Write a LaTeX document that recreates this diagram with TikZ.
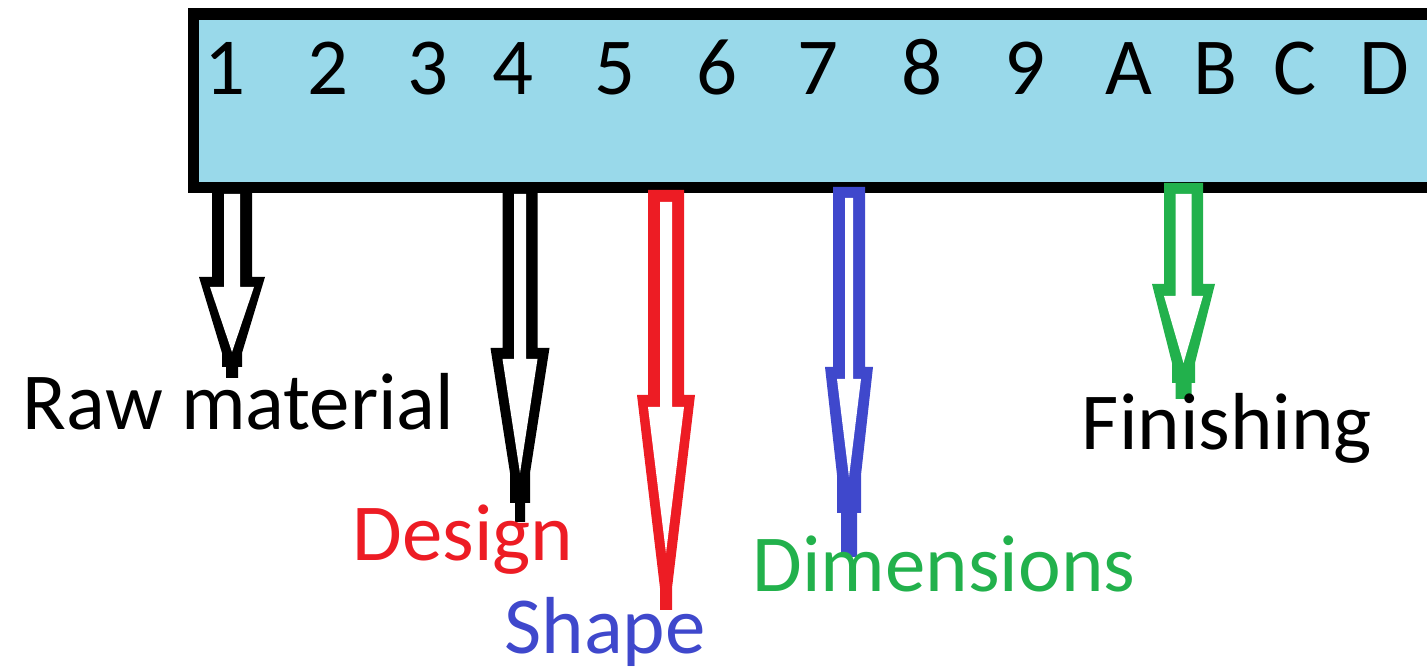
\documentclass[tikz,border=0pt]{standalone}
\usepackage{fontspec}
\setmainfont{Carlito}
\definecolor{boxblue}{HTML}{99D9EA}
\definecolor{pred}{HTML}{ED1C24}
\definecolor{pblue}{HTML}{3F48CC}
\definecolor{pgreen}{HTML}{22B14C}
\begin{document}
\begin{tikzpicture}[x=0.01cm,y=-0.01cm,
  lbl/.style={anchor=base, inner sep=0pt, font=\fontsize{23}{28}\selectfont},
  digit/.style={lbl},
  bar/.style={draw=black, line width=0.115cm, fill=boxblue, inner sep=0pt, outer sep=0pt, anchor=north west,
    minimum width=12.665cm, minimum height=1.735cm}]
\path[use as bounding box] (0,0) rectangle (1427,671);
\clip (0,0) rectangle (1427,671);
% the bar
\node[bar] (bar) at (193.5,14) {};
% digits
\foreach \t/\x/\n in {1/225/d1, 2/327.5/d2, 3/427.5/d3, 4/512.5/d4, 5/614.5/d5, 6/717/d6, 7/817.5/d7, 8/921.5/d8, 9/1024.5/d9, A/1128.5/dA, B/1215/dB, C/1295.5/dC, D/1384.5/dD}
  \node[digit] (\n) at (\x,95) {\t};
% arrow 1 (black)
\begin{scope}[shift={(232,0)}]
  \fill[black] (-20,190) -- (20,190) -- (20,277) -- (33,277) -- (10,353) -- (10,367) -- (6,367) -- (6,378)
     -- (-6,378) -- (-6,367) -- (-10,367) -- (-10,353) -- (-33,277) -- (-20,277) -- cycle;
  \fill[white] (-8,194) -- (8,194) -- (8,287) -- (22,287) -- (0,352) -- (-22,287) -- (-8,287) -- cycle;
\end{scope}
% arrow 2 (black)
\begin{scope}[shift={(520,0)}]
  \fill[black] (-17.5,190) -- (17.5,190) -- (17.5,348) -- (29.5,348) -- (10,473) -- (10,503) -- (5,503) -- (5,522)
     -- (-5,522) -- (-5,503) -- (-10,503) -- (-10,473) -- (-29.5,348) -- (-17.5,348) -- cycle;
  \fill[white] (-6,194) -- (6,194) -- (6,359) -- (17.5,359) -- (0,473) -- (-17.5,359) -- (-6,359) -- cycle;
\end{scope}
% arrow 3 (red)
\begin{scope}[shift={(666,0)}]
  \fill[pred] (-18,190) -- (18,190) -- (18,395) -- (29,395) -- (6,588) -- (6,610)
     -- (-6,610) -- (-6,588) -- (-29,395) -- (-18,395) -- cycle;
  \fill[white] (-6,202) -- (6,202) -- (6,407) -- (18,407) -- (0,553) -- (-18,407) -- (-6,407) -- cycle;
\end{scope}
% arrow 4 (blue)
\begin{scope}[shift={(849,0)}]
  \fill[pblue] (-16,187) -- (16,187) -- (16,367) -- (24,367) -- (12,475) -- (12,513) -- (8,513) -- (8,557)
     -- (-8,557) -- (-8,513) -- (-12,513) -- (-12,475) -- (-24,367) -- (-16,367) -- cycle;
  \fill[white] (-4,198) -- (4,198) -- (4,379) -- (12,379) -- (0,477) -- (-12,379) -- (-4,379) -- cycle;
\end{scope}
% arrow 5 (green)
\begin{scope}[shift={(1183.5,0)}]
  \fill[pgreen] (-19.5,183) -- (19.5,183) -- (19.5,284) -- (31.5,284) -- (11.5,363) -- (11.5,383) -- (8,383) -- (8,399)
     -- (-8,399) -- (-8,383) -- (-11.5,383) -- (-11.5,363) -- (-31.5,284) -- (-19.5,284) -- cycle;
  \fill[white] (-8,194) -- (8,194) -- (8,296) -- (19.5,296) -- (0,363) -- (-19.5,296) -- (-8,296) -- cycle;
\end{scope}
% labels
\node[lbl] (raw) at (238.5,430) {Raw material};
\node[lbl, text=pred] (design) at (463,561) {Design};
\node[lbl, text=pblue] (shape) at (605,654) {Shape};
\node[lbl, text=pgreen] (dim) at (944,592) {Dimensions};
\node[lbl] (fin) at (1227,450) {Finishing};
\end{tikzpicture}
\end{document}
